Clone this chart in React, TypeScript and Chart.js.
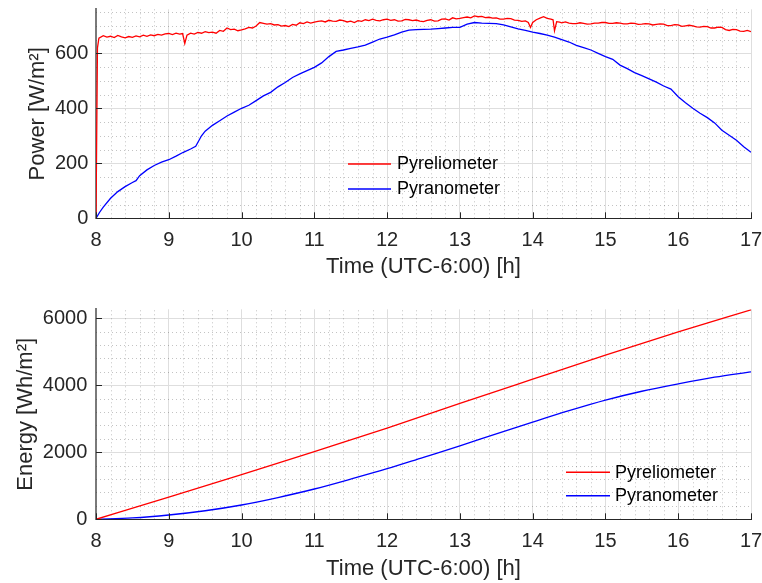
import React, { useEffect, useRef } from "react";
import { Chart, registerables } from "chart.js";

Chart.register(...registerables);

const FONT = "'Liberation Sans', Arial, Helvetica, sans-serif";
const TEXT = "#262626";
const RED = "#ff0000";
const BLUE = "#0000ff";

const seriesNames = ["Pyreliometer", "Pyranometer"];
const xTitle = "Time (UTC-6:00) [h]";
const xTickValues = [8, 9, 10, 11, 12, 13, 14, 15, 16, 17];
const powerTickValues = [0, 200, 400, 600];
const energyTickValues = [0, 2000, 4000, 6000];

// Power — Pyreliometer
const pyrelioPowerTime = [
  8.0, 8.02, 8.04, 8.1, 8.15, 8.2, 8.25, 8.3, 8.35, 8.4, 8.45, 8.5, 8.55, 8.6, 8.65, 8.7, 8.75, 8.8, 8.85, 8.9, 8.95,
  9.0, 9.05, 9.1, 9.15, 9.19, 9.22, 9.25, 9.3, 9.35, 9.4, 9.45, 9.5, 9.55, 9.6, 9.65, 9.7, 9.75, 9.8, 9.85, 9.9, 9.95,
  10.0, 10.05, 10.1, 10.15, 10.2, 10.25, 10.3, 10.35, 10.4, 10.45, 10.5, 10.55, 10.6, 10.65, 10.7, 10.75, 10.8, 10.85, 10.9, 10.95,
  11.0, 11.05, 11.1, 11.15, 11.2, 11.25, 11.3, 11.35, 11.4, 11.45, 11.5, 11.55, 11.6, 11.65, 11.7, 11.75, 11.8, 11.85, 11.9, 11.95,
  12.0, 12.05, 12.1, 12.15, 12.2, 12.25, 12.3, 12.35, 12.4, 12.45, 12.5, 12.55, 12.6, 12.65, 12.7, 12.75, 12.8, 12.85, 12.9, 12.95,
  13.0, 13.05, 13.1, 13.15, 13.2, 13.25, 13.3, 13.35, 13.4, 13.45, 13.5, 13.55, 13.6, 13.65, 13.7, 13.75, 13.8, 13.85, 13.9, 13.94, 13.97, 14.0, 14.05,
  14.1, 14.15, 14.2, 14.25, 14.28, 14.3, 14.33, 14.37, 14.4, 14.45, 14.5, 14.55, 14.6, 14.65, 14.7, 14.75, 14.8, 14.85, 14.9, 14.95,
  15.0, 15.05, 15.1, 15.15, 15.2, 15.25, 15.3, 15.35, 15.4, 15.45, 15.5, 15.55, 15.6, 15.65, 15.7, 15.75, 15.8, 15.85, 15.9, 15.95,
  16.0, 16.05, 16.1, 16.15, 16.2, 16.25, 16.3, 16.35, 16.4, 16.45, 16.5, 16.55, 16.6, 16.65, 16.7, 16.75, 16.8, 16.85, 16.9, 16.95, 17.0,
];
const pyrelioPower = [
  0, 620, 655, 664, 659, 662, 657, 665, 660, 656, 661, 658, 663, 660, 666, 662, 667, 664, 669, 666, 671,
  672, 668, 673, 670, 672, 636, 666, 673, 670, 676, 673, 679, 675, 677, 673, 683, 680, 692, 686, 688, 682,
  685, 689, 694, 692, 699, 712, 709, 706, 708, 703, 704, 699, 701, 697, 705, 702, 711, 708, 714, 710,
  713, 716, 718, 714, 720, 717, 716, 721, 719, 714, 717, 712, 719, 716, 722, 719, 724, 720, 718, 722,
  724, 720, 722, 717, 718, 723, 722, 719, 721, 717, 715, 720, 722, 717, 718, 724, 725, 721, 729, 725,
  727, 730, 732, 729, 736, 733, 734, 730, 731, 728, 729, 724, 724, 727, 726, 721, 720, 716, 718, 712, 694, 712, 722,
  728, 733, 727, 724, 722, 682, 715, 713, 711, 714, 710, 708, 708, 711, 709, 706, 707, 710, 710, 712,
  712, 709, 709, 711, 710, 707, 707, 710, 709, 705, 706, 708, 707, 703, 705, 707, 706, 701, 701, 704,
  703, 698, 700, 702, 700, 696, 695, 698, 697, 692, 692, 695, 694, 686, 683, 687, 686, 681, 680, 683, 679,
];

// Power — Pyranometer
const pyranoPowerTime = [
  8.0, 8.05, 8.1, 8.2, 8.3, 8.4, 8.5, 8.55, 8.6, 8.7, 8.8, 8.9, 9.0, 9.1, 9.2, 9.3, 9.37, 9.45, 9.5, 9.6, 9.7, 9.8, 9.9,
  10.0, 10.1, 10.2, 10.3, 10.4, 10.5, 10.6, 10.7, 10.8, 10.9, 11.0, 11.1, 11.2, 11.3, 11.4, 11.5, 11.6, 11.7, 11.8, 11.9,
  12.0, 12.1, 12.2, 12.3, 12.4, 12.5, 12.6, 12.7, 12.8, 12.9, 13.0, 13.1, 13.2, 13.3, 13.4, 13.5, 13.6, 13.7, 13.8, 13.9,
  14.0, 14.1, 14.2, 14.3, 14.4, 14.5, 14.6, 14.7, 14.8, 14.9, 15.0, 15.1, 15.2, 15.3, 15.4, 15.5, 15.6, 15.7, 15.8, 15.9,
  16.0, 16.1, 16.2, 16.3, 16.4, 16.5, 16.6, 16.7, 16.8, 16.9, 17.0,
];
const pyranoPower = [
  0, 22, 41, 73, 97, 115, 130, 137, 155, 176, 192, 204, 213, 226, 240, 252, 262, 300, 317, 338, 355, 372, 386,
  400, 411, 428, 445, 458, 478, 494, 512, 525, 537, 549, 565, 588, 607, 612, 618, 623, 630, 641, 652,
  659, 667, 677, 684, 686, 687, 688, 690, 692, 694, 694, 706, 712, 710, 709, 708, 703, 696, 689, 683,
  677, 672, 666, 659, 650, 641, 629, 621, 612, 600, 588, 578, 557, 544, 530, 519, 507, 495, 481, 470,
  442, 420, 400, 382, 366, 347, 320, 302, 284, 260, 240,
];

// Energy — Pyreliometer
const pyrelioEnergyTime = [8, 9, 10, 11, 12, 13, 14, 15, 16, 17];
const pyrelioEnergy = [0, 660, 1330, 2020, 2720, 3460, 4180, 4895, 5590, 6250];

// Energy — Pyranometer
const pyranoEnergyTime = [8, 8.5, 9, 9.5, 10, 10.5, 11, 11.5, 12, 12.5, 13, 13.5, 14, 14.5, 15, 15.5, 16, 16.5, 17];
const pyranoEnergy = [0, 40, 128, 255, 427, 650, 904, 1200, 1510, 1850, 2190, 2550, 2900, 3240, 3555, 3820, 4040, 4240, 4400];

const toXY = (xs: number[], ys: number[]) => xs.map((x, i) => ({ x, y: ys[i] }));

const decorPlugin = {
  id: "decor",
  beforeDatasetsDraw(chart: any, _args: any, opts: any) {
    const { ctx, chartArea: a, scales } = chart;
    const x = scales.x;
    const y = scales.y;
    ctx.save();
    ctx.strokeStyle = "rgba(38,38,38,0.28)";
    ctx.lineWidth = 1;
    ctx.setLineDash([1, 3]);
    for (let i = 0; ; i++) {
      const v = x.min + i * opts.xMinor;
      if (v > x.max + 1e-9) break;
      if (Math.abs(v - Math.round(v)) < 1e-6) continue;
      const px = Math.round(x.getPixelForValue(v)) + 0.5;
      ctx.beginPath();
      ctx.moveTo(px, a.bottom);
      ctx.lineTo(px, a.top);
      ctx.stroke();
    }
    for (let i = 0; ; i++) {
      const v = i * opts.yMinor;
      if (v > y.max + 1e-9) break;
      if (Math.abs(v / opts.yMajor - Math.round(v / opts.yMajor)) < 1e-6) continue;
      const py = Math.round(y.getPixelForValue(v)) + 0.5;
      ctx.beginPath();
      ctx.moveTo(a.left, py);
      ctx.lineTo(a.right, py);
      ctx.stroke();
    }
    ctx.restore();
  },
  afterDraw(chart: any, _args: any, opts: any) {
    const { ctx, chartArea: a, scales } = chart;
    const x = scales.x;
    const y = scales.y;
    ctx.save();
    ctx.strokeStyle = TEXT;
    ctx.lineWidth = 1;
    ctx.setLineDash([]);
    const tl = 6;
    for (const v of xTickValues) {
      const px = Math.round(x.getPixelForValue(v)) + 0.5;
      ctx.beginPath();
      ctx.moveTo(px, a.bottom);
      ctx.lineTo(px, a.bottom - tl);
      ctx.stroke();
    }
    for (const v of opts.yTicks) {
      const py = Math.round(y.getPixelForValue(v)) + 0.5;
      ctx.beginPath();
      ctx.moveTo(a.left, py);
      ctx.lineTo(a.left + tl, py);
      ctx.stroke();
    }
    const L = opts.legend;
    const colors = [RED, BLUE];
    ctx.font = `18px ${FONT}`;
    ctx.textBaseline = "middle";
    ctx.textAlign = "left";
    seriesNames.forEach((name, i) => {
      const ly = L.y[i];
      ctx.strokeStyle = colors[i];
      ctx.lineWidth = 1.4;
      ctx.beginPath();
      ctx.moveTo(L.x0, ly);
      ctx.lineTo(L.x1, ly);
      ctx.stroke();
      ctx.fillStyle = "#000";
      ctx.fillText(name, L.tx, ly + 0.5);
    });
    ctx.restore();
  },
};

function buildConfig(p: any): any {
  const dsExtra = p.smooth ? { cubicInterpolationMode: "monotone" } : { tension: 0 };
  return {
    type: "line",
    data: {
      datasets: [
        { label: seriesNames[0], data: p.red, borderColor: RED, borderWidth: 1.3, pointRadius: 0, fill: false, ...dsExtra },
        { label: seriesNames[1], data: p.blue, borderColor: BLUE, borderWidth: 1.3, pointRadius: 0, fill: false, ...dsExtra },
      ],
    },
    options: {
      responsive: false,
      animation: false,
      events: [],
      layout: { padding: { left: 0, right: 11, top: p.areaTop, bottom: 0 } },
      plugins: {
        legend: { display: false },
        tooltip: { enabled: false },
        decor: { xMinor: 0.2, yMinor: p.yMinor, yMajor: p.yMajor, yTicks: p.yTicks, legend: p.legend },
      },
      scales: {
        x: {
          type: "linear",
          min: 8,
          max: 17,
          afterBuildTicks: (axis: any) => {
            axis.ticks = xTickValues.map((v) => ({ value: v }));
          },
          afterFit: (s: any) => {
            s.height = p.xAxisHeight;
            s.paddingLeft = 0;
            s.paddingRight = 0;
          },
          grid: { color: "#dedede", lineWidth: 1, drawTicks: false },
          border: { display: true, color: TEXT, width: 1 },
          ticks: {
            color: TEXT,
            font: { family: FONT, size: 20 },
            padding: p.xTickPad,
            maxRotation: 0,
            autoSkip: false,
            callback: (v: any) => String(v),
          },
          title: { display: true, text: xTitle, color: TEXT, font: { family: FONT, size: 22 }, padding: { top: 0, bottom: p.xTitlePad } },
        },
        y: {
          type: "linear",
          min: 0,
          max: p.yMax,
          afterBuildTicks: (axis: any) => {
            axis.ticks = p.yTicks.map((v: number) => ({ value: v }));
          },
          afterFit: (s: any) => {
            s.width = 96;
            s.paddingTop = 0;
            s.paddingBottom = 0;
          },
          grid: { color: "#dedede", lineWidth: 1, drawTicks: false },
          border: { display: true, color: "#7a7a7a", width: 2 },
          ticks: {
            color: TEXT,
            font: { family: FONT, size: 20 },
            padding: p.yTickPad,
            autoSkip: false,
            callback: (v: any) => String(v),
          },
          title: { display: true, text: p.yTitle, color: TEXT, font: { family: FONT, size: 22 }, padding: { top: p.yTitlePad, bottom: 0 } },
        },
      },
    },
    plugins: [decorPlugin],
  };
}

export default function App() {
  const topRef = useRef<HTMLCanvasElement>(null);
  const botRef = useRef<HTMLCanvasElement>(null);

  useEffect(() => {
    const c1 = new Chart(
      topRef.current as HTMLCanvasElement,
      buildConfig({
        red: toXY(pyrelioPowerTime, pyrelioPower),
        blue: toXY(pyranoPowerTime, pyranoPower),
        smooth: false,
        yMax: 760,
        yTicks: powerTickValues,
        yMinor: 50,
        yMajor: 200,
        yTitle: "Power [W/m²]",
        yTitlePad: 24.3,
        yTickPad: 7.7,
        areaTop: 9.3,
        xAxisHeight: 71.7,
        xTickPad: 10.3,
        xTitlePad: 10.1,
        legend: { x0: 348, x1: 391, tx: 397, y: [164, 189] },
      })
    );
    const c2 = new Chart(
      botRef.current as HTMLCanvasElement,
      buildConfig({
        red: toXY(pyrelioEnergyTime, pyrelioEnergy),
        blue: toXY(pyranoEnergyTime, pyranoEnergy),
        smooth: true,
        yMax: 6265,
        yTicks: energyTickValues,
        yMinor: 400,
        yMajor: 2000,
        yTitle: "Energy [Wh/m²]",
        yTitlePad: 12.3,
        yTickPad: 8.7,
        areaTop: 19.3,
        xAxisHeight: 63.7,
        xTickPad: 10.4,
        xTitlePad: 0.8,
        legend: { x0: 566, x1: 610, tx: 615, y: [182.3, 205.7] },
      })
    );
    return () => {
      c1.destroy();
      c2.destroy();
    };
  }, []);

  return (
    <div style={{ position: "absolute", left: 0, top: 0, width: 762, height: 583, background: "#ffffff" }}>
      <canvas ref={topRef} width={762} height={290} style={{ display: "block" }} />
      <canvas ref={botRef} width={762} height={293} style={{ display: "block" }} />
    </div>
  );
}
